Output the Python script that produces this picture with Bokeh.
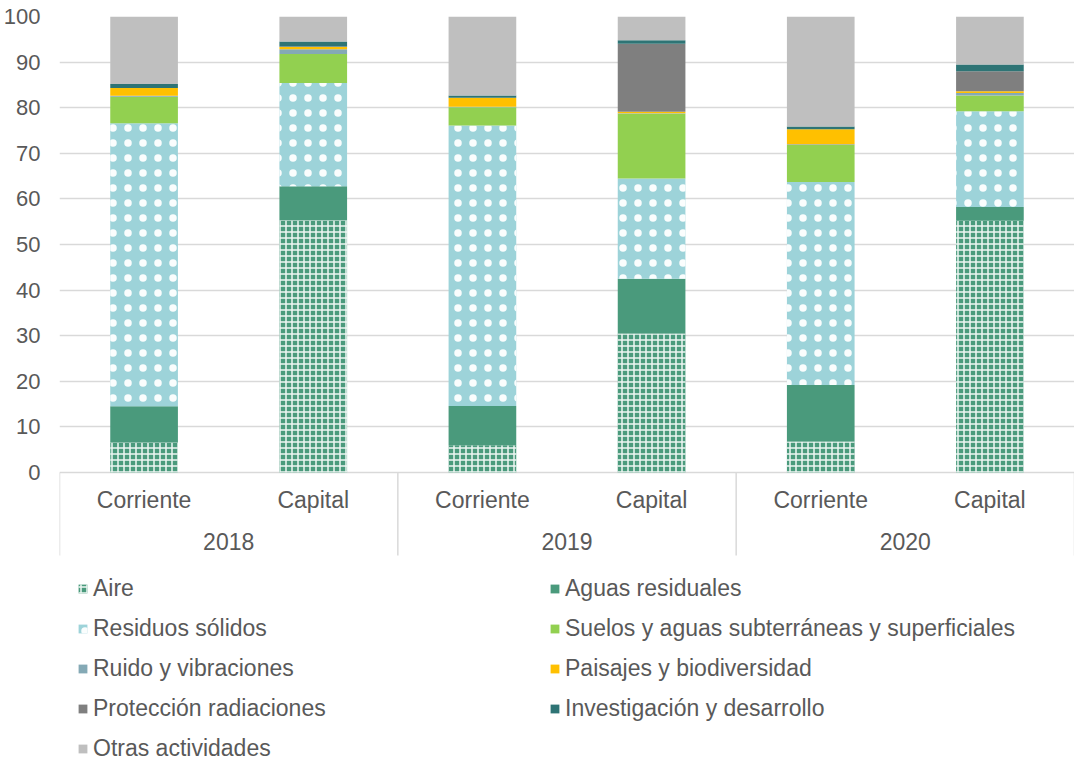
from bokeh.plotting import figure
from bokeh.models import FactorRange, Range1d, FixedTicker, Legend, LegendItem, ColumnDataSource
from bokeh.transform import stack
from bokeh.core.properties import value
from bokeh.embed import file_html
from bokeh.resources import INLINE

years = ["2018", "2019", "2020"]
types = ["Corriente", "Capital"]
series = ["Aire", "Aguas residuales", "Residuos sólidos",
          "Suelos y aguas subterráneas y superficiales", "Ruido y vibraciones",
          "Paisajes y biodiversidad", "Protección radiaciones",
          "Investigación y desarrollo", "Otras actividades"]

# values per bar: 2018 Corriente, 2018 Capital, 2019 Corriente, 2019 Capital, 2020 Corriente, 2020 Capital
aire          = [6.6, 55.3, 6.0, 30.5, 6.8, 55.2]
aguas         = [7.9, 7.5, 8.6, 12.0, 12.4, 3.0]
residuos      = [62.1, 22.6, 61.5, 22.0, 44.5, 21.0]
suelos        = [5.8, 6.4, 4.0, 14.2, 8.1, 3.5]
ruido         = [0.2, 1.0, 0.1, 0.1, 0.2, 0.5]
paisajes      = [1.7, 0.5, 2.0, 0.3, 3.3, 0.4]
proteccion    = [0.0, 0.1, 0.0, 14.9, 0.0, 4.4]
investigacion = [0.9, 1.1, 0.5, 0.8, 0.6, 1.5]
otras         = [14.8, 5.5, 17.3, 5.2, 24.1, 10.5]

y_ticks = [0, 10, 20, 30, 40, 50, 60, 70, 80, 90, 100]

values = [aire, aguas, residuos, suelos, ruido, paisajes, proteccion, investigacion, otras]
colors = ["#4a9a7c", "#4a9a7c", "#9dd3d9", "#92d050", "#84a9b5",
          "#ffc000", "#7f7f7f", "#2e7475", "#bfbfbf"]
hatches = ["cross", None, "dot", None, None, None, None, None, None]

FONT = "Liberation Sans"
TXT = "#595959"
GRID = "#d9d9d9"

factors = [(y, t) for y in years for t in types]
keys = ["s%d" % i for i in range(len(series))]
data = {"x": factors}
for k, v in zip(keys, values):
    data[k] = v
source = ColumnDataSource(data)

x_range = FactorRange(*factors, factor_padding=0, group_padding=0, range_padding=0)
# the frame also holds the category labels and the legend below the zero line
p = figure(x_range=x_range, y_range=Range1d(-63.6, 100), frame_width=1015, frame_height=746,
           output_backend="svg", toolbar_location=None,
           min_border_top=16, min_border_left=46, min_border_right=0, min_border_bottom=0)
p.outline_line_color = None

renderers = []
for i, k in enumerate(keys):
    kw = dict(fill_color=colors[i], line_color=None)
    if hatches[i] == "cross":
        kw.update(hatch_pattern="cross", hatch_color="white", hatch_scale=6, hatch_weight=1.5, hatch_alpha=0.9)
    elif hatches[i] == "dot":
        kw.update(hatch_pattern="dot", hatch_color="white", hatch_scale=15, hatch_weight=1.3, hatch_alpha=0.95)
    r = p.vbar(x="x", width=0.4, bottom=stack(*keys[:i]), top=stack(*keys[:i + 1]),
               source=source, **kw)
    renderers.append(r)

# category labels (two levels) and separators under the zero line
p.text(x=factors, y=[-6.1] * len(factors), text=[t for _, t in factors],
       text_font=value(FONT), text_font_size="23px", text_color=TXT,
       text_align="center", text_baseline="middle")
p.text(x=years, y=[-15.1] * len(years), text=years,
       text_font=value(FONT), text_font_size="23px", text_color=TXT,
       text_align="center", text_baseline="middle")
bounds = [(y, types[0], -0.5) for y in years] + [(years[-1], types[-1], 0.5)]
p.segment(x0=bounds, x1=bounds, y0=[0] * len(bounds), y1=[-18.2] * len(bounds),
          line_color=GRID, line_width=1.5)

# axes
p.xaxis.visible = False
p.yaxis.ticker = FixedTicker(ticks=y_ticks)
p.yaxis.axis_line_color = None
p.yaxis.major_tick_line_color = None
p.yaxis.minor_tick_line_color = None
p.yaxis.major_label_text_font = FONT
p.yaxis.major_label_text_font_size = "22px"
p.yaxis.major_label_text_color = TXT
p.yaxis.major_label_standoff = 13

p.xgrid.grid_line_color = None
p.ygrid.grid_line_color = GRID
p.ygrid.grid_line_width = 1.5

order = [0, 2, 4, 6, 8, 1, 3, 5, 7]
items = [LegendItem(label=series[i], renderers=[renderers[i]]) for i in order]
legend = Legend(items=items, orientation="vertical", nrows=5, label_width=443,
                glyph_width=11, glyph_height=11, label_standoff=5,
                label_text_font=FONT, label_text_font_size="23px",
                label_text_color=TXT, spacing=13, padding=0, margin=0,
                border_line_color=None, background_fill_alpha=0, location=(18, 0))
p.add_layout(legend, "center")

open("out.html", "w").write(file_html(p, INLINE))
